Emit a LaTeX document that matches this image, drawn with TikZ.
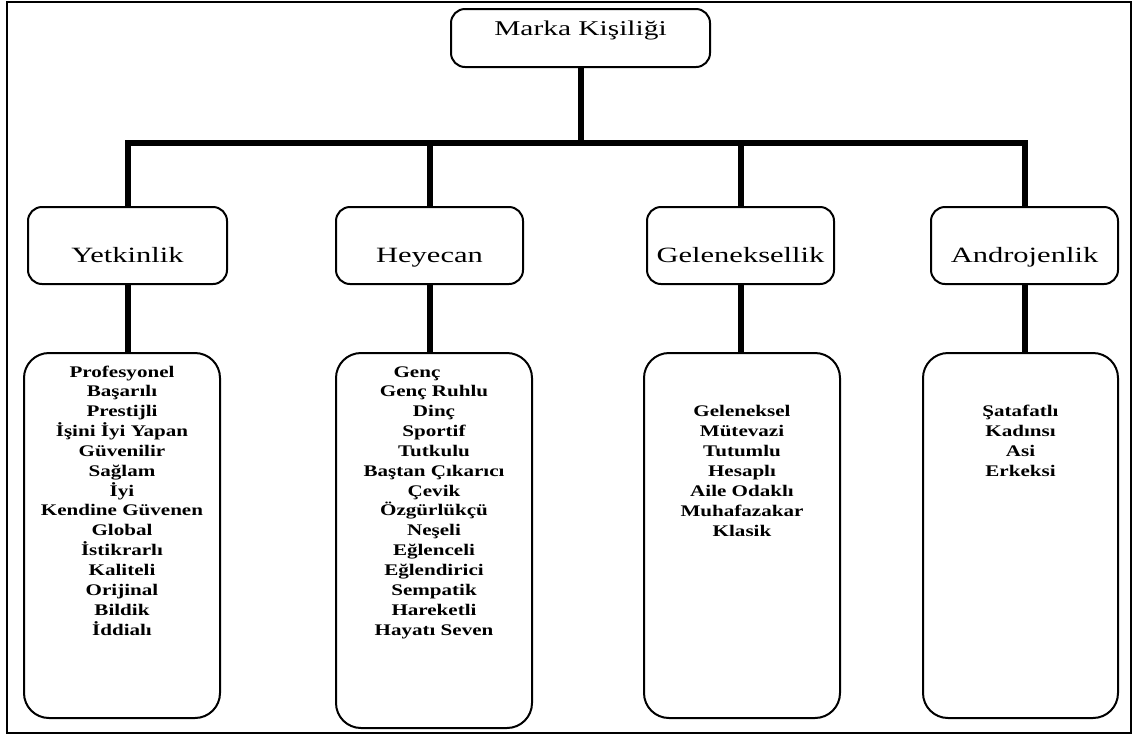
\documentclass[tikz,border=0pt]{standalone}
\usepackage{fontspec}
\setmainfont{Liberation Serif}
\newfontfamily\widefont[FakeStretch=1.3]{Liberation Serif}
\newfontfamily\headfont[FakeStretch=1.4]{Liberation Serif}
\usetikzlibrary{calc}
\setlength{\lineskiplimit}{-20pt}

\begin{document}
\begin{tikzpicture}[x=0.5pt, y=-0.5pt,
    topbox/.style={draw, line width=1pt, rounded corners=7pt, inner sep=0pt, outer sep=0pt,
      anchor=north, minimum width=129.5pt, text height=13pt, text depth=16pt,
      font=\headfont\fontsize{10.5}{13}\selectfont},
    catbox/.style={draw, line width=1pt, rounded corners=7pt, inner sep=0pt, outer sep=0pt,
      anchor=north, minimum width=93.5pt, text height=27.5pt, text depth=11pt,
      font=\headfont\fontsize{10.9}{13}\selectfont},
    listbox/.style={draw, line width=1pt, rounded corners=12.5pt, inner sep=0pt, outer sep=0pt,
      anchor=north, minimum width=98pt, minimum height=182.5pt},
    listtext/.style={anchor=base, align=center, inner sep=0pt,
      font=\widefont\bfseries\fontsize{8.1}{9.92}\selectfont},
    bar/.style={line width=3pt}]
    \useasboundingbox (0,0) rectangle (1134,735);
    \draw[line width=1pt] (7,1.5) rectangle (1131,733);

    % top and categories
    \node[topbox] (marka) at (580.5,9) {Marka Kişiliği};
    \node[catbox, minimum width=99.5pt] (yet) at (127.5,207) {Yetkinlik};
    \node[catbox] (hey) at (429.5,207) {Heyecan};
    \node[catbox] (gel) at (740.5,207) {Geleneksellik};
    \node[catbox] (and) at (1024.5,207) {Androjenlik};

    % lists (anchored at the last line)
    \node[listbox] (yet-box) at (122,353) {};
    \node[listbox, minimum height=187.5pt] (hey-box) at (434,353) {};
    \node[listbox] (gel-box) at (742,353) {};
    \node[listbox, minimum width=97.5pt] (and-box) at (1020.5,353) {};

    \node[listtext] (yet-list) at (122,635) {Profesyonel\\Başarılı\\Prestijli\\İşini İyi Yapan\\Güvenilir\\Sağlam\\İyi\\Kendine Güvenen\\Global\\İstikrarlı\\Kaliteli\\Orijinal\\Bildik\\İddialı};
    \node[listtext] (hey-list) at (434,635) {Genç\hspace*{17pt}\\Genç Ruhlu\\Dinç\\Sportif\\Tutkulu\\Baştan Çıkarıcı\\Çevik\\Özgürlükçü\\Neşeli\\Eğlenceli\\Eğlendirici\\Sempatik\\Hareketli\\Hayatı Seven};
    \node[listtext] (gel-list) at (742,536) {Geleneksel\\Mütevazi\\Tutumlu\\Hesaplı\\Aile Odaklı\\Muhafazakar\\Klasik};
    \node[listtext] (and-list) at (1020.5,476.5) {Şatafatlı\\Kadınsı\\Asi\\Erkeksi};

    % connectors
    \coordinate (bus) at (580.5,143);
    \draw[bar] (marka.south) -- (bus);
    \draw[bar] (yet.north) -- (yet.north |- bus) -- (and.north |- bus) -- (and.north);
    \draw[bar] (hey.north) -- (hey.north |- bus);
    \draw[bar] (gel.north) -- (gel.north |- bus);
    \draw[bar] (yet.south) -- (yet.south |- yet-box.north);
    \draw[bar] (hey.south) -- (hey.south |- hey-box.north);
    \draw[bar] (gel.south) -- (gel.south |- gel-box.north);
    \draw[bar] (and.south) -- (and.south |- and-box.north);
\end{tikzpicture}
\end{document}
